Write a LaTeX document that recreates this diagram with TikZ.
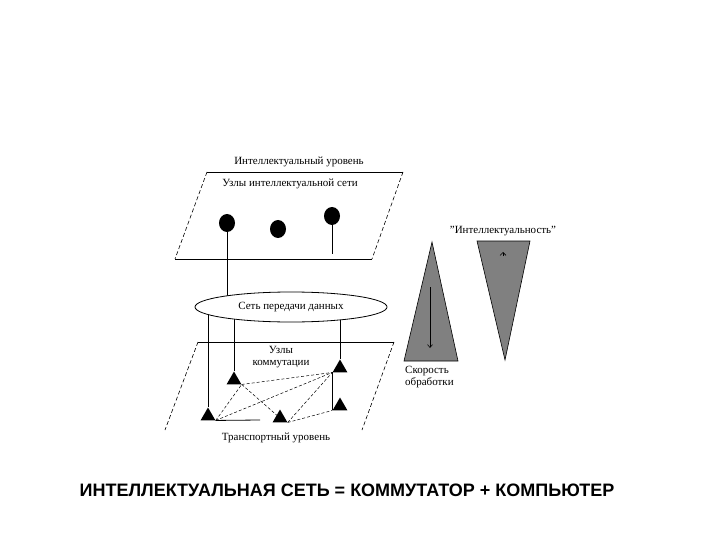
\documentclass[tikz,border=0pt]{standalone}
\usepackage{fontspec}
\setmainfont{Liberation Serif}
\newfontfamily\titlefont{Liberation Sans}
\usetikzlibrary{shapes.geometric,arrows.meta,backgrounds}
\definecolor{conegray}{RGB}{128,128,128}
\begin{document}
\begin{tikzpicture}[x=1pt,y=-1pt,
  lbl/.style={font=\fontsize{11}{12}\selectfont, inner sep=0pt, align=center},
  dot/.style={ellipse, fill=black, minimum width=16pt, minimum height=18pt, inner sep=0pt},
  tri/.style={regular polygon, regular polygon sides=3, fill=black, minimum size=17pt, inner sep=0pt},
  edge/.style={line width=0.8pt},
  dline/.style={dash pattern=on 3pt off 2pt, line width=0.5pt},
  side/.style={dash pattern=on 4pt off 2.5pt, line width=0.6pt},
  cone/.style={fill=conegray, draw=black, line width=0.6pt}]
\useasboundingbox (0,0) rectangle (720,540);
% top plane
\draw[edge] (207,172) -- (403,172);
\draw[edge] (175,259) -- (372,259);
\draw[side] (207,172) -- (175,259);
\draw[side] (403,172) -- (372,259);
\node[lbl] (tIL) at (299,162) {Интеллектуальный уровень};
\node[lbl] (tUIS) at (290,184) {Узлы интеллектуальной сети};
\node[dot] (D1) at (227,223) {};
\node[dot] (D2) at (278,229) {};
\node[dot] (D3) at (332,216) {};
\coordinate (d3end) at (332,254);
% data network
\node[ellipse, draw, fill=white, line width=0.8pt, minimum width=192pt, minimum height=30pt, inner sep=0pt, font=\fontsize{11}{12}\selectfont] (E) at (291,307) {Сеть передачи данных};
% lower plane
\draw[edge] (198,342) -- (394,342);
\draw[side] (198,342) -- (165,430);
\draw[side] (394,342) -- (362,430);
\node[lbl] (tUK) at (281,357) {Узлы\\коммутации};
\node[lbl] (tTU) at (276,438) {Транспортный уровень};
\node[tri] (T1) at (208,416) {};
\node[tri] (T2) at (234,380) {};
\node[tri] (T3) at (280,418) {};
\node[tri] (T4) at (340,368) {};
\node[tri] (T5) at (340,406) {};
\coordinate (t1end) at (260,420);
\begin{scope}[on background layer]
  \draw[edge] (D1) -- (D1 |- E.center);
  \draw[edge] (D3) -- (d3end);
  \draw[edge] (T1.north |- E.center) -- (T1.north);
  \draw[edge] (T2.north |- E.center) -- (T2.north);
  \draw[edge] (T4.north |- E.center) -- (T4.north);
  \draw[dline] (T1.corner 3) -- (T2.corner 3);
  \draw[dline] (T1.corner 3) -- (T4.corner 2);
  \draw[dline] (T2.corner 3) -- (T3.center);
  \draw[dline] (T2.corner 3) -- (T4.corner 2);
  \draw[dline] (T3.corner 3) -- (T4.corner 2);
  \draw[dline] (T3.corner 3) -- (T5.corner 2);
  \draw[edge] (T4.corner 2) -- (T5.corner 2);
  \draw[edge] (T1.corner 3) -- (t1end);
\end{scope}
% cones
\draw[cone] (432,242) -- (458,361) -- (404,361) -- cycle;
\draw[cone] (477,241) -- (530,241) -- (505,360) -- cycle;
\coordinate (arA) at (430,287);
\coordinate (arB) at (430,348);
\draw[line width=0.6pt, -{Straight Barb[length=3pt,width=5pt]}] (arA) -- (arB);
\coordinate (upA) at (503,256);
\coordinate (upB) at (503,252);
\draw[line width=0.6pt, -{Straight Barb[length=3pt,width=6pt]}] (upA) -- (upB);
\node[lbl] (tInt) at (503,231) {\symbol{34}Интеллектуальность\symbol{34}};
\node[lbl, anchor=north west, align=left] (tSk) at (405,366) {Скорость\\обработки};
% title
\node[inner sep=0pt, font=\titlefont\bfseries\fontsize{18}{20}\selectfont] (title) at (347,490) {ИНТЕЛЛЕКТУАЛЬНАЯ СЕТЬ = КОММУТАТОР + КОМПЬЮТЕР};
\end{tikzpicture}
\end{document}
